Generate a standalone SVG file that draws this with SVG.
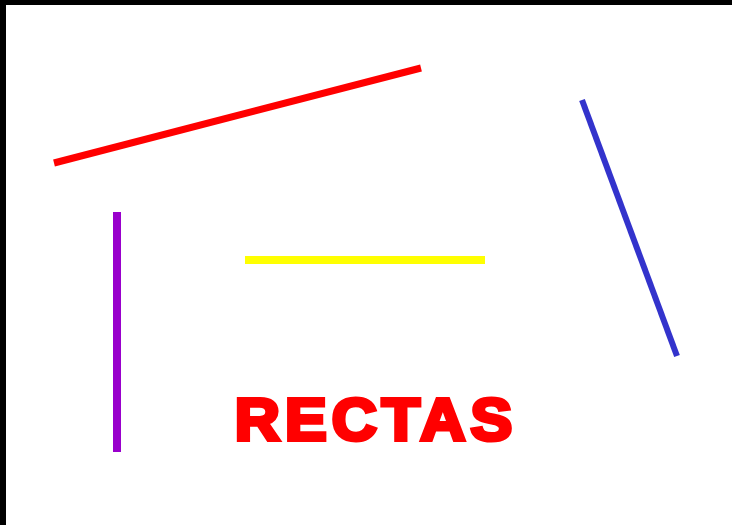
<svg xmlns="http://www.w3.org/2000/svg" width="732" height="525" viewBox="0 0 732 525">
<style>
line{stroke-linecap:butt}
.t{font-family:"Liberation Sans",Arial,sans-serif;font-weight:bold;fill:#FF0000;stroke:#FF0000;stroke-width:4;stroke-linejoin:miter}
</style>
<rect x="0" y="0" width="732" height="525" fill="#FFFFFF"/>
<rect x="0" y="0" width="732" height="5" fill="#000000"/>
<rect x="0" y="0" width="6" height="525" fill="#000000"/>
<g id="connectors">
<line id="red" x1="54" y1="163" x2="421" y2="68" stroke="#FF0000" stroke-width="7"/>
<line id="blue" x1="582" y1="100" x2="677" y2="356" stroke="#3333CC" stroke-width="6"/>
<line id="purple" x1="117" y1="212" x2="117" y2="452" stroke="#9900CC" stroke-width="8"/>
<line id="yellow" x1="245" y1="260" x2="485" y2="260" stroke="#FFFF00" stroke-width="8"/>
</g>
<g id="title">
<text class="t" transform="translate(234.85,439.7) scale(1.06,1)" x="0" y="0" font-size="59" letter-spacing="4.7">RECTAS</text>
</g>
</svg>
